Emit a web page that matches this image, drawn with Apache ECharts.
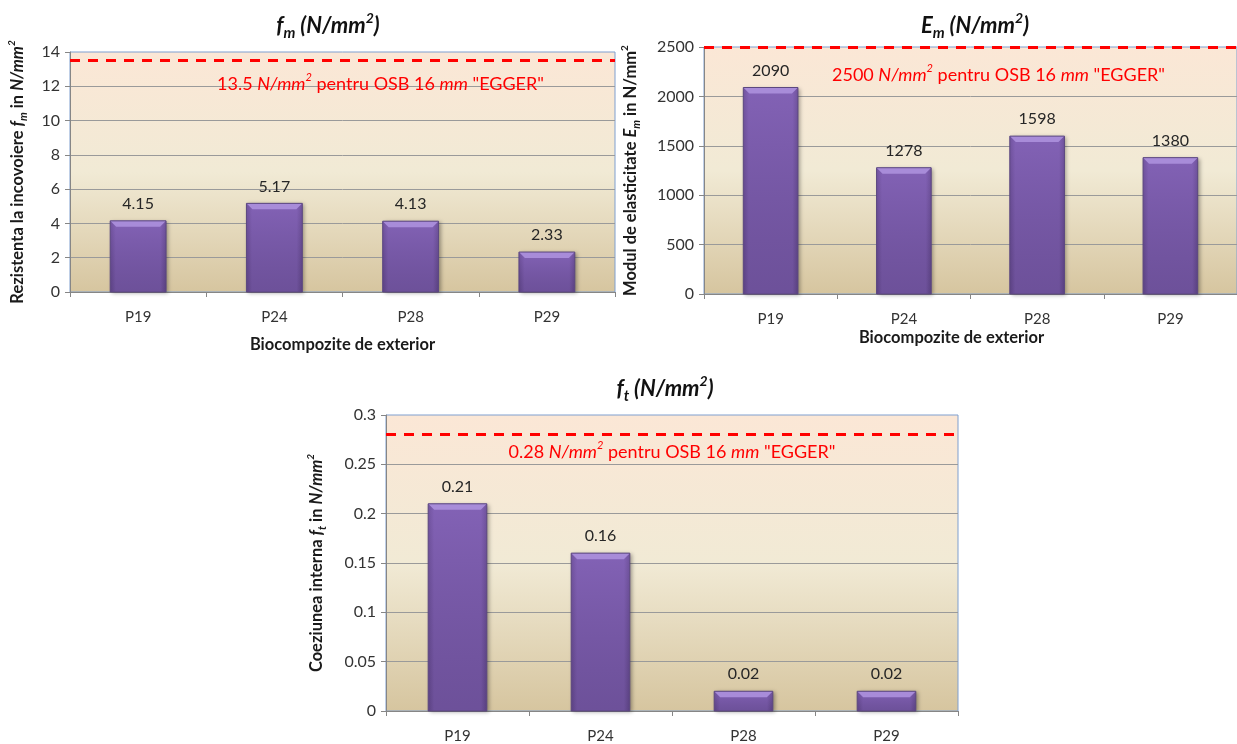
<!DOCTYPE html>
<html>
<head>
<meta charset="utf-8">
<script src="https://cdn.jsdelivr.net/npm/echarts@6/dist/echarts.min.js"></script>
<style>
  html, body { margin: 0; padding: 0; background: #ffffff; }
  #chart { width: 1237px; height: 744px; }
</style>
</head>
<body>
<div id="chart"></div>
<script>
// Sample labels and measured values
const categories = ['P19', 'P24', 'P28', 'P29'];
const fmValues = [4.15, 5.17, 4.13, 2.33];     // bending strength, N/mm2
const emValues = [2090, 1278, 1598, 1380];     // modulus of elasticity, N/mm2
const ftValues = [0.21, 0.16, 0.02, 0.02];     // internal bond, N/mm2

// Reference values for OSB 16 mm "EGGER"
const fmRef = 13.5;
const emRef = 2500;
const ftRef = 0.28;

// Value axis ranges [min, max, interval]
const fmAxis = [0, 14, 2];
const emAxis = [0, 2500, 500];
const ftAxis = [0, 0.3, 0.05];

const FONT = 'Lato, "Open Sans", "Liberation Sans", sans-serif';

const plotBg = new echarts.graphic.LinearGradient(0, 0, 0, 1, [
  { offset: 0, color: '#fbe7d6' },
  { offset: 0.5, color: '#f1ead5' },
  { offset: 1, color: '#d6c59f' }
]);

// Rich-text styles shared by titles, axis names and reference labels
function richSet(size, color, bold) {
  const w = bold ? 'bold' : 'normal';
  return {
    n:   { fontSize: size, fontWeight: w, color, fontFamily: FONT },
    i:   { fontSize: size, fontWeight: w, fontStyle: 'italic', color, fontFamily: FONT },
    sub: { fontSize: Math.round(size * 0.68), fontWeight: w, fontStyle: 'italic', color, fontFamily: FONT, verticalAlign: 'bottom', lineHeight: size * 1.35 },
    sup: { fontSize: Math.round(size * 0.62), fontWeight: w, color, fontFamily: FONT, verticalAlign: 'top', lineHeight: size * 1.35 },
    supi:{ fontSize: Math.round(size * 0.62), fontWeight: w, fontStyle: 'italic', color, fontFamily: FONT, verticalAlign: 'top', lineHeight: size * 1.35 }
  };
}

// Bevelled bar drawn through the axis scales
function bevelBar(params, api) {
  const v = api.value(1);
  const top = api.coord([api.value(0), v]);
  const base = api.coord([api.value(0), 0]);
  const bw = api.size([1, 0])[0] * 0.41;
  const x = top[0] - bw / 2;
  const y = top[1];
  const h = base[1] - top[1];
  const b = Math.min(6, h / 2);
  const label = String(v);
  return {
    type: 'group',
    children: [
      {
        type: 'rect',
        shape: { x: x, y: y, width: bw, height: h },
        style: {
          fill: new echarts.graphic.LinearGradient(0, 0, 1, 0, [
            { offset: 0, color: '#664b8f' },
            { offset: 0.1, color: '#7c5eac' },
            { offset: 0.9, color: '#7c5eac' },
            { offset: 1, color: '#644a8c' }
          ]),
          shadowBlur: 4, shadowColor: 'rgba(0,0,0,0.35)', shadowOffsetX: 2, shadowOffsetY: 1
        }
      },
      {
        type: 'rect',
        shape: { x: x, y: y, width: bw, height: h },
        style: {
          fill: new echarts.graphic.LinearGradient(0, 0, 0, 1, [
            { offset: 0, color: 'rgba(150,110,210,0.25)' },
            { offset: 1, color: 'rgba(40,20,70,0.18)' }
          ])
        }
      },
      {
        type: 'polygon',
        shape: { points: [[x, y], [x + bw, y], [x + bw - b, y + b], [x + b, y + b]] },
        style: { fill: '#a88cd9' }
      },
      {
        type: 'rect',
        shape: { x: x, y: y, width: bw, height: h },
        style: { fill: 'none', stroke: '#5c4880', lineWidth: 1 }
      },
      {
        type: 'text',
        x: top[0],
        y: y - 9,
        style: {
          text: label, fill: '#262626', fontSize: 16, fontFamily: FONT,
          align: 'center', verticalAlign: 'bottom'
        }
      }
    ]
  };
}

function refLine(value, text, distance, padLeft) {
  return {
    symbol: 'none',
    silent: true,
    lineStyle: { color: '#ff0000', width: 3, type: [10, 8] },
    label: {
      show: true,
      position: 'insideMiddleBottom',
      distance: distance,
      padding: [0, padLeft < 0 ? -padLeft : 0, 0, padLeft > 0 ? padLeft : 0],
      formatter: text,
      rich: richSet(18, '#ff0000', false)
    },
    data: [{ yAxis: value }]
  };
}

const refText = (v) => '{n|' + v + ' }{i|N/mm}{supi|2}{n| pentru OSB 16 }{i|mm}{n| "EGGER"}';

function xAxisFor(grid, name, gap, padRight) {
  return {
    type: 'category',
    gridIndex: grid,
    data: categories,
    boundaryGap: true,
    axisLine: { show: true, lineStyle: { color: '#868686', width: 1 } },
    axisTick: { show: true, length: 5, lineStyle: { color: '#868686' } },
    axisLabel: { color: '#333333', fontSize: 15, fontFamily: FONT, margin: 18 },
    name: name,
    nameLocation: 'middle',
    nameGap: gap,
    nameTextStyle: { color: '#1a1a1a', fontSize: 16.5, fontWeight: 'bold', fontFamily: FONT, padding: [0, padRight || 0, 0, 0] }
  };
}

function yAxisFor(grid, range, name, gap) {
  return {
    type: 'value',
    gridIndex: grid,
    min: range[0], max: range[1], interval: range[2],
    axisLine: { show: true, lineStyle: { color: '#868686', width: 1 } },
    axisTick: { show: true, length: 5, lineStyle: { color: '#868686' } },
    axisLabel: { color: '#333333', fontSize: 16, fontFamily: FONT, margin: 10, formatter: (v) => String(v) },
    splitLine: { show: true, showMinLine: false, showMaxLine: false, lineStyle: { color: '#9a9a9a', width: 1 } },
    name: name,
    nameLocation: 'middle',
    nameGap: gap,
    nameRotate: 90,
    nameTextStyle: { rich: richSet(16.5, '#1a1a1a', true) }
  };
}

function titleFor(x, y, sym, sub) {
  return {
    left: x, top: y, textAlign: 'center',
    text: '{i|' + sym + '}{sub|' + sub + '}{i| (N/mm}{supi|2}{i|)}',
    textStyle: { rich: richSet(22, '#111111', true) }
  };
}

const chart = echarts.init(document.getElementById('chart'), null, { renderer: 'canvas' });

chart.setOption({
  animation: false,
  backgroundColor: '#ffffff',
  title: [
    titleFor(323, 6, 'f', 'm'),
    titleFor(970, 6, 'E', 'm'),
    titleFor(660, 369, 'f', 't')
  ],
  grid: [
    { left: 70, top: 52, width: 545, height: 240, show: true, backgroundColor: plotBg, borderColor: '#7f9fcf', borderWidth: 1 },
    { left: 704, top: 47, width: 545, height: 247, show: true, backgroundColor: plotBg, borderColor: '#7f9fcf', borderWidth: 1 },
    { left: 386, top: 415, width: 572, height: 298, show: true, backgroundColor: plotBg, borderColor: '#7f9fcf', borderWidth: 1 }
  ],
  xAxis: [
    xAxisFor(0, 'Biocompozite de exterior', 44),
    xAxisFor(1, 'Biocompozite de exterior', 35, 38),
    xAxisFor(2, '', 30)
  ],
  yAxis: [
    yAxisFor(0, fmAxis, '{n|Rezistenta la incovoiere }{i|f}{sub|m}{n| in }{i|N/mm}{supi|2}', 41),
    yAxisFor(1, emAxis, '{n|Modul de elasticitate }{i|E}{sub|m}{n| in N/mm}{sup|2}', 62),
    yAxisFor(2, ftAxis, '{n|Coeziunea interna }{i|f}{sub|t}{n| in }{i|N/mm}{supi|2}', 58)
  ],
  series: [
    { type: 'custom', xAxisIndex: 0, yAxisIndex: 0, renderItem: bevelBar, encode: { x: 0, y: 1 },
      data: fmValues.map((v, i) => [i, v]) },
    { type: 'custom', xAxisIndex: 1, yAxisIndex: 1, renderItem: bevelBar, encode: { x: 0, y: 1 },
      data: emValues.map((v, i) => [i, v]) },
    { type: 'custom', xAxisIndex: 2, yAxisIndex: 2, renderItem: bevelBar, encode: { x: 0, y: 1 },
      data: ftValues.map((v, i) => [i, v]) },
    { type: 'line', xAxisIndex: 0, yAxisIndex: 0, data: [], markLine: refLine(fmRef, refText(fmRef), 11, 76) },
    { type: 'line', xAxisIndex: 1, yAxisIndex: 1, data: [], markLine: refLine(emRef, refText(emRef), 16, 56) },
    { type: 'line', xAxisIndex: 2, yAxisIndex: 2, data: [], markLine: refLine(ftRef, refText(ftRef), 5, 0) }
  ]
});
</script>
</body>
</html>
